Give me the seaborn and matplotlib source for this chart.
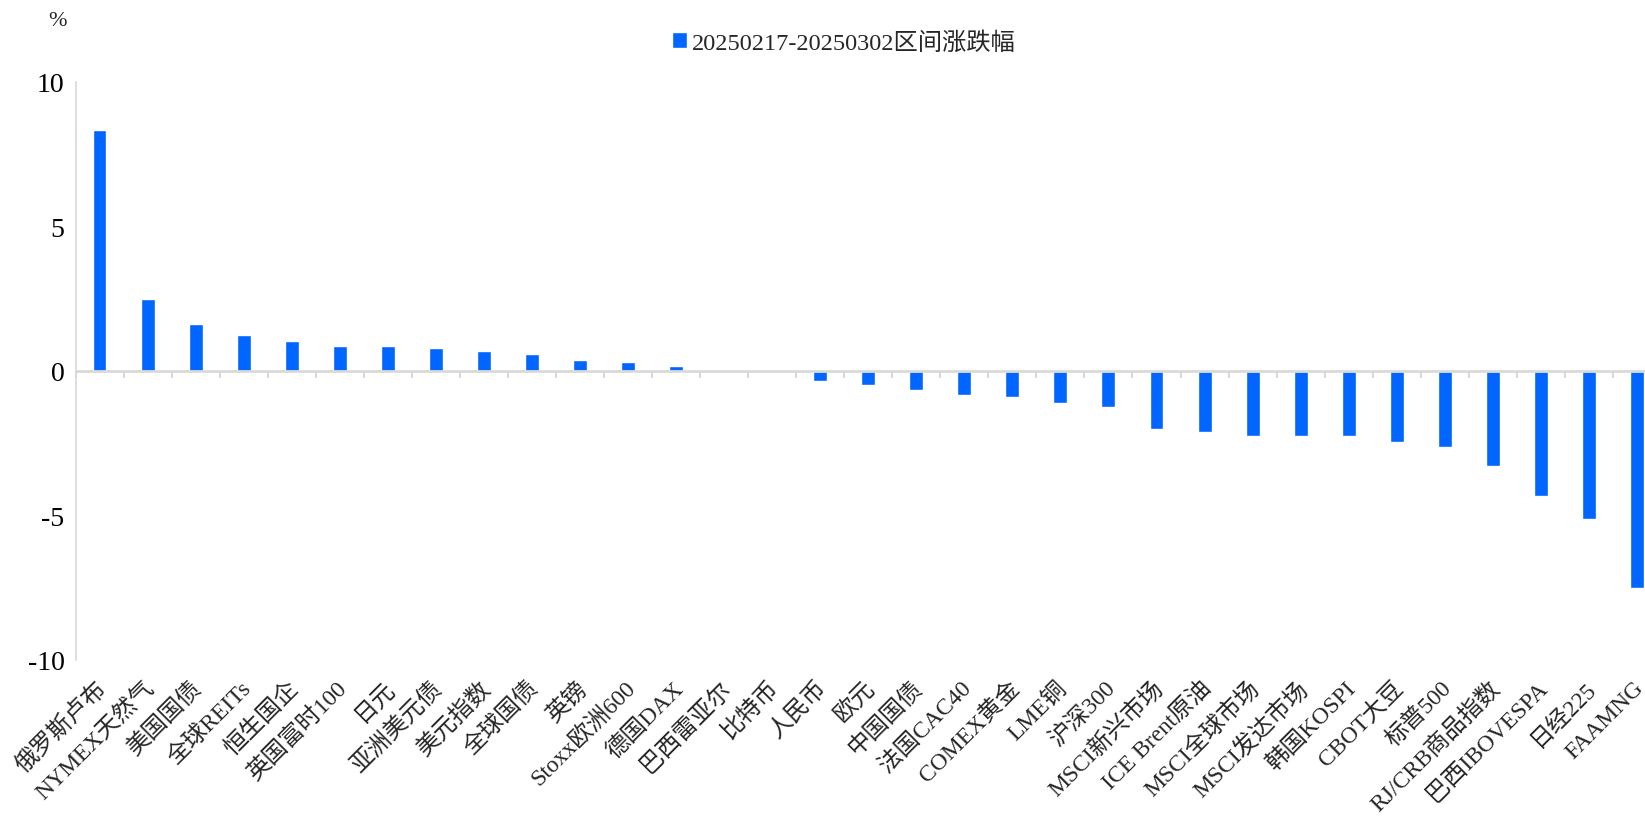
import matplotlib
matplotlib.use("Agg")
import matplotlib.pyplot as plt
import matplotlib.transforms as mtransforms
import seaborn as sns
import pandas as pd
import numpy as np

categories = ["俄罗斯卢布", "NYMEX天然气", "美国国债", "全球REITs", "恒生国企", "英国富时100",
              "日元", "亚洲美元债", "美元指数", "全球国债", "英镑", "Stoxx欧洲600", "德国DAX",
              "巴西雷亚尔", "比特币", "人民币", "欧元", "中国国债", "法国CAC40", "COMEX黄金",
              "LME铜", "沪深300", "MSCI新兴市场", "ICE Brent原油", "MSCI全球市场", "MSCI发达市场",
              "韩国KOSPI", "CBOT大豆", "标普500", "RJ/CRB商品指数", "巴西IBOVESPA", "日经225", "FAAMNG"]
values = [8.34, 2.48, 1.62, 1.24, 1.02, 0.87,
          0.87, 0.79, 0.69, 0.57, 0.38, 0.30, 0.16,
          0.0, 0.0, -0.35, -0.49, -0.66, -0.82, -0.91,
          -1.11, -1.25, -2.02, -2.10, -2.24, -2.26,
          -2.27, -2.47, -2.64, -3.30, -4.33, -5.12, -7.52]
series_name = "20250217-20250302区间涨跌幅"
y_ticks = [-10, -5, 0, 5, 10]

sns.set_theme(style="white")
plt.rcParams['font.family'] = ['Liberation Serif', 'Noto Sans CJK SC']
plt.rcParams['axes.unicode_minus'] = False

df = pd.DataFrame({"cat": categories, "val": values, "series": series_name})

fig = plt.figure(figsize=(16.45, 8.2), dpi=100)
ax = fig.add_axes([0.0459, 0.194, 1.0097 - 0.0459, 0.899 - 0.194])

sns.barplot(data=df, x="cat", y="val", hue="series", palette={series_name: "#0066FF"},
            width=0.29, ax=ax, legend=True, saturation=1)

ax.set_xlim(-0.5, len(categories) - 0.5)
ax.set_ylim(-10, 10)
ax.set_yticks(y_ticks)
ax.set_yticklabels([str(t) for t in y_ticks], fontsize=20)
ax.set_xlabel("")
ax.set_ylabel("")

for s in ["top", "right", "bottom"]:
    ax.spines[s].set_visible(False)
ax.spines["left"].set_color("#d9d9d9")
ax.spines["left"].set_linewidth(1.2)
ax.tick_params(axis="y", length=4, color="#d9d9d9", width=1.2, pad=4, labelcolor="black")
ax.tick_params(axis="x", length=0, pad=12)
ax.set_xticks(range(len(categories)))
ax.set_xticklabels(categories, rotation=45, ha="right", rotation_mode="anchor", fontsize=17)
shift = mtransforms.ScaledTranslation(-4 / 100, 0, fig.dpi_scale_trans)
for lbl in ax.get_xticklabels():
    lbl.set_transform(lbl.get_transform() + shift)

# zero line with boundary ticks (ticks pointing downward)
sec = ax.secondary_xaxis(0.5)
sec.set_xticks(np.arange(-0.5, len(categories) + 0.5, 1))
sec.set_xticklabels([])
sec.tick_params(axis="x", length=5, color="#d9d9d9", width=1.5, direction="in",
                top=True, bottom=False, labeltop=False, labelbottom=False)
for s in sec.spines.values():
    s.set_color("#d9d9d9")
    s.set_linewidth(2)
sec.set_zorder(5)

leg = ax.legend(loc="upper center", bbox_to_anchor=(844 / 1645, 1 - 10 / 820),
                bbox_transform=fig.transFigure, frameon=False, fontsize=17.5,
                handlelength=0.6, handleheight=0.6, handletextpad=0.2)

fig.text(57 / 1645, 1 - 22 / 820, "%", ha="center", va="center", fontsize=16)

fig.savefig("out.png", dpi=100)
